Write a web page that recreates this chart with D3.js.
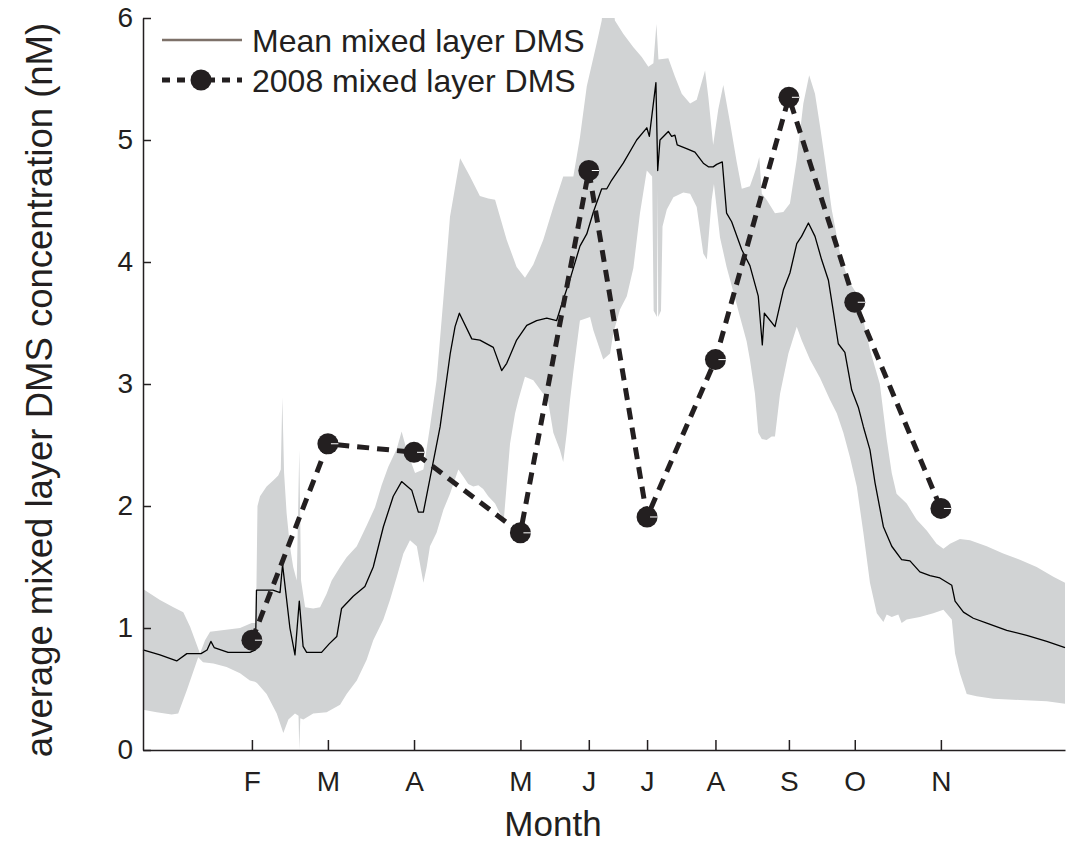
<!DOCTYPE html>
<html>
<head>
<meta charset="utf-8">
<script src="https://cdn.jsdelivr.net/npm/d3@7"></script>
<style>
    body { margin: 0; background: #fff; }
    text { font-family: Helvetica, Arial, "Liberation Sans", sans-serif; fill: #231f20; }
</style>
</head>
<body>
<div id="divChart"></div>
<script>
// 2008 samples (day of year) and month tick labels
var sampleDays = [44, 74, 108, 150, 177, 200, 227, 256, 282, 316];
var sampleVals = [0.9, 2.51, 2.44, 1.78, 4.75, 1.91, 3.2, 5.35, 3.67, 1.98];
var monthLabels = ["F", "M", "A", "M", "J", "J", "A", "S", "O", "N"];
var yTicks = [0, 1, 2, 3, 4, 5, 6];

// mean mixed layer DMS (climatology)
var meanDays = [1, 7.7, 14.3, 18.3, 23.9, 26.3, 27.8, 29.1, 34.6, 43.2, 45.4, 45.8, 52.3, 55.1, 56.1, 59, 61, 62.7,
    64.2, 65.6, 71.5, 74.5, 77.5, 79.4, 84, 88.6, 91.9, 95.9, 99.8, 103.1, 107.1, 109.7, 111.7, 115, 118.3, 122.3,
    124.2, 125.9, 130.8, 134, 139.3, 142.6, 144.6, 148.5, 152.5, 156.4, 160.4, 164.3, 166.9, 169.6, 173.5, 176.2,
    178.8, 182.1, 184.1, 186, 190.6, 195.9, 199.9, 200.9, 203.5, 204.2, 205.1, 208.4, 209.7, 211, 211.9, 215.6,
    218.9, 222.2, 224.2, 226.1, 227.5, 229.7, 231.4, 233.4, 237.4, 240.6, 243.9, 245.5, 246.3, 250.5, 253.8, 256.4,
    259.1, 261, 263.7, 266.3, 268.9, 271.6, 273.5, 275.5, 278.1, 280.8, 283.4, 285.4, 288, 290, 293.3, 296.6, 300.5,
    303.8, 307.7, 311.7, 315.6, 320.3, 321.6, 324.9, 328.8, 334.1, 342, 349.9, 357.8, 365];
var meanVals = [0.82, 0.78, 0.73, 0.79, 0.79, 0.82, 0.89, 0.84, 0.8, 0.8, 0.82, 1.31, 1.31, 1.29, 1.52, 1.0, 0.78, 1.22,
    0.85, 0.8, 0.8, 0.87, 0.93, 1.16, 1.26, 1.34, 1.5, 1.83, 2.08, 2.2, 2.13, 1.95, 1.95, 2.3, 2.65, 3.25,
    3.47, 3.58, 3.37, 3.36, 3.3, 3.11, 3.17, 3.36, 3.48, 3.52, 3.54, 3.52, 3.69, 3.86, 4.13, 4.23,
    4.41, 4.6, 4.6, 4.67, 4.81, 5.0, 5.1, 5.03, 5.47, 4.75, 5.0, 5.07, 5.03, 5.04, 4.96, 4.93,
    4.9, 4.81, 4.78, 4.78, 4.8, 4.82, 4.4, 4.33, 4.1, 3.97, 3.72, 3.32, 3.58, 3.47, 3.77, 3.91,
    4.15, 4.21, 4.32, 4.21, 4.02, 3.85, 3.6, 3.33, 3.26, 2.95, 2.81, 2.65, 2.46, 2.19, 1.83, 1.67, 1.56,
    1.55, 1.46, 1.43, 1.41, 1.35, 1.22, 1.13, 1.08, 1.04, 0.98, 0.94, 0.89, 0.84];

// upper edge of the shaded range
var upperDays = [1, 7.7, 13, 16.9, 19.6, 23.5, 25.5, 27.5, 31.4, 39.3, 43.9, 45.6, 46.2, 47.2, 49.8, 52.4, 54.4,
    55.4, 56, 56.7, 57.7, 59, 60.3, 61.7, 62.7, 63.4, 65, 68.2, 70.9, 73.5, 75.5, 78.8, 81.4, 85.4, 89.3, 92.6,
    95.2, 97.8, 101.2, 103.1, 105.1, 108.4, 111.7, 114.3, 116.9, 119.6, 122.2, 126.2, 130.1, 134, 137.3, 140,
    144.6, 148.5, 151.8, 155.1, 159, 163, 166.9, 170.9, 173.5, 176.2, 180.1, 182.1, 182.6, 186.7, 187.3, 190.6,
    194.6, 197.9, 200.5, 202.5, 203.7, 204.5, 208.4, 211, 213.7, 217, 219.6, 222.9, 224.2, 226.1, 228.1, 230.1,
    232.7, 235.4, 237.4, 240.6, 243.3, 244.3, 245.3, 247.2, 250.5, 253.8, 256.4, 259.1, 261.7, 264, 266.3, 268.3,
    270.2, 272.9, 276.2, 279.4, 282.8, 285.4, 288, 291.9, 294.6, 296.6, 298.5, 302.5, 306.4, 310.4, 314.3, 317,
    319.6, 323.5, 327.5, 334.1, 340.6, 347.2, 353.8, 360.4, 365];
var upperVals = [1.32, 1.23, 1.17, 1.13, 1.01, 0.79, 0.9, 0.97, 0.98, 1.0, 1.04, 1.04, 2.0, 2.08, 2.16, 2.21, 2.25,
    2.3, 2.89, 2.27, 1.94, 1.67, 1.5, 1.39, 2.46, 1.39, 1.17, 1.16, 1.17, 1.28, 1.39, 1.5, 1.58, 1.67, 1.84, 1.99,
    2.17, 2.32, 2.47, 2.61, 2.46, 2.27, 2.3, 2.65, 3.03, 3.7, 4.37, 4.85, 4.7, 4.54, 4.52, 4.51,
    4.18, 3.96, 3.87, 3.98, 4.18, 4.45, 4.7, 4.7, 5.02, 5.44, 5.79, 5.98, 6.1, 6.1, 5.98, 5.87,
    5.76, 5.68, 5.6, 5.63, 5.95, 5.66, 5.67, 5.52, 5.38, 5.3, 5.33, 5.57, 5.35, 4.96, 5.25, 5.45,
    5.15, 4.82, 4.6, 4.62, 4.78, 4.86, 4.56, 4.51, 4.4, 4.41, 4.48, 4.84, 5.3, 5.53, 5.38, 5.11,
    4.84, 4.43, 4.07, 3.85, 3.74, 3.52, 3.28, 3.0, 2.55, 2.27, 2.1, 2.02, 1.89, 1.8, 1.69, 1.65,
    1.69, 1.73, 1.72, 1.67, 1.61, 1.56, 1.5, 1.42, 1.37];

// lower edge of the shaded range
var lowerDays = [1, 6.4, 12.3, 14.9, 18.3, 22.8, 24.7, 28.8, 34, 39.3, 43.2, 45.2, 46, 49.8, 53.8, 56.4, 58.4, 61,
    62.4, 62.7, 63.1, 64.3, 68.2, 73.5, 78.8, 81.4, 85.4, 89.3, 91.9, 95.9, 98.5, 101.2, 103.8, 106.4, 109.1, 111.7,
    113, 114.3, 116.9, 119.6, 122.2, 125.5, 127.5, 129.4, 131.4, 133.4, 135.3, 137.3, 140, 141.9, 143.5, 144.6,
    145.9, 147.9, 149.2, 151.8, 155.1, 159, 161, 163, 165.6, 166.9, 168.3, 169.6, 170.9, 173.5, 177.5, 178.8,
    182.7, 185.4, 186.7, 189.3, 192, 194.6, 197.2, 199.9, 202, 202.6, 203.9, 204.2, 204.4, 205.5, 206.1, 207.8,
    210.4, 214.3, 217, 219.6, 222.2, 223.6, 225.5, 226.4, 228.8, 231.4, 234, 236.7, 239.3, 240.6, 242.6, 243.9,
    245.3, 247.2, 249.2, 250.5, 252.5, 255.8, 259.1, 261, 264.3, 268.3, 272.2, 274.9, 277.5, 280.1, 282.8, 285.4,
    288, 290.7, 293.3, 294.6, 296.6, 299.2, 300.5, 302.5, 307.7, 313, 317, 320.3, 321.6, 323.5, 326.2, 330.1,
    336.7, 347.2, 357.8, 365];
var lowerVals = [0.33, 0.31, 0.29, 0.3, 0.49, 0.76, 0.72, 0.71, 0.68, 0.63, 0.57, 0.56, 0.55, 0.46, 0.3, 0.14, 0.25, 0.3,
    0.28, 0.0, 0.26, 0.25, 0.3, 0.31, 0.37, 0.46, 0.57, 0.74, 0.9, 1.07, 1.23, 1.42, 1.61, 1.72, 1.67, 1.37,
    1.5, 1.67, 1.78, 1.97, 2.1, 2.3, 2.24, 2.18, 2.16, 2.17, 2.14, 2.08, 2.02, 1.94, 1.9, 2.18,
    2.51, 2.76, 2.87, 3.06, 3.03, 2.92, 2.85, 2.6, 2.46, 2.36, 2.6, 2.87, 3.1, 3.52, 3.55, 3.44,
    3.2, 3.25, 3.42, 3.61, 3.72, 3.95, 4.4, 4.75, 4.7, 3.6, 3.55, 4.6, 3.55, 3.6, 4.29, 4.43,
    4.53, 4.57, 4.56, 4.45, 4.07, 4.02, 4.51, 4.64, 4.2, 3.96, 3.76, 3.55, 3.35, 3.2, 2.92, 2.6,
    2.55, 2.54, 2.57, 2.57, 2.92, 3.25, 3.47, 3.36, 3.2, 3.05, 2.87, 2.76, 2.6, 2.4, 2.16, 1.78,
    1.37, 1.12, 1.05, 1.11, 1.09, 1.11, 1.04, 1.07, 1.09, 1.12, 1.15, 1.07, 0.79, 0.63, 0.46, 0.44,
    0.42, 0.41, 0.4, 0.38];

function pairUp(days, vals) {
    return days.map(function (d, i) { return [d, vals[i]]; });
}

function drawChart() {
    var svg = d3.select("#divChart").append("svg")
        .attr("width", 1070).attr("height", 846);

    var x = d3.scaleLinear().domain([1, 365]).range([143, 1065]);
    var y = d3.scaleLinear().domain([0, 6]).range([750, 18]);

    svg.append("clipPath").attr("id", "plotClip")
        .append("rect").attr("x", 143).attr("y", 18).attr("width", 922).attr("height", 732);

    var line = d3.line()
        .x(function (p) { return x(p[0]); })
        .y(function (p) { return y(p[1]); });

    //shaded range: upper edge then lower edge backwards
    var band = pairUp(upperDays, upperVals).concat(pairUp(lowerDays, lowerVals).reverse());
    svg.append("path")
        .attr("clip-path", "url(#plotClip)")
        .attr("d", line(band) + "Z")
        .attr("fill", "#d1d3d4");

    svg.append("path")
        .attr("d", line(pairUp(meanDays, meanVals)))
        .attr("fill", "none").attr("stroke", "#000").attr("stroke-width", 1.3)
        .attr("stroke-linejoin", "round");

    //2008 samples
    svg.append("path")
        .attr("d", line(pairUp(sampleDays, sampleVals)))
        .attr("fill", "none").attr("stroke", "#231f20").attr("stroke-width", 5)
        .attr("stroke-dasharray", "12,8");

    var dots = svg.selectAll(".dot").data(pairUp(sampleDays, sampleVals)).enter()
        .append("g").attr("class", "dot")
        .attr("transform", function (p) { return "translate(" + x(p[0]) + "," + y(p[1]) + ")"; });
    dots.append("circle").attr("r", 10.5).attr("fill", "#231f20");
    dots.append("line").attr("x1", 3).attr("x2", 10.5).attr("stroke", "#fff").attr("stroke-width", 1);

    //axes, ticks pointing inward
    var yAxis = d3.axisLeft(y).tickValues(yTicks).tickFormat(d3.format("d"))
        .tickSizeInner(-8).tickSizeOuter(0).tickPadding(10);
    var gy = svg.append("g").attr("transform", "translate(143,0)").call(yAxis);

    var xAxis = d3.axisBottom(x).tickValues(sampleDays).tickSizeInner(-10).tickSizeOuter(0).tickPadding(21)
        .tickFormat(function (d, i) { return monthLabels[i]; });
    var gx = svg.append("g").attr("transform", "translate(0,750)").call(xAxis);

    [gx, gy].forEach(function (g) {
        g.select(".domain").attr("stroke", "#231f20").attr("stroke-width", 1.5);
        g.selectAll(".tick line").attr("stroke", "#231f20").attr("stroke-width", 1.5);
        g.selectAll(".tick text").attr("font-size", 28).attr("font-family", null).attr("fill", "#231f20");
    });

    svg.append("text").attr("x", 553).attr("y", 836).attr("text-anchor", "middle")
        .attr("font-size", 35).text("Month");
    svg.append("text").attr("transform", "translate(52,390) rotate(-90)").attr("text-anchor", "middle")
        .attr("font-size", 36.5).text("average mixed layer DMS concentration (nM)");

    //legend
    var legend = svg.append("g");
    legend.append("line").attr("x1", 162).attr("x2", 242).attr("y1", 40).attr("y2", 40)
        .attr("stroke", "#7d7169").attr("stroke-width", 2.5);
    legend.append("text").attr("x", 252).attr("y", 52).attr("font-size", 32).text("Mean mixed layer DMS");
    legend.append("line").attr("x1", 162).attr("x2", 242).attr("y1", 80).attr("y2", 80)
        .attr("stroke", "#231f20").attr("stroke-width", 5).attr("stroke-dasharray", "8,7");
    legend.append("circle").attr("cx", 201).attr("cy", 80).attr("r", 10.5).attr("fill", "#231f20");
    legend.append("text").attr("x", 252).attr("y", 92).attr("font-size", 32).text("2008 mixed layer DMS");
}

drawChart();
</script>
</body>
</html>
